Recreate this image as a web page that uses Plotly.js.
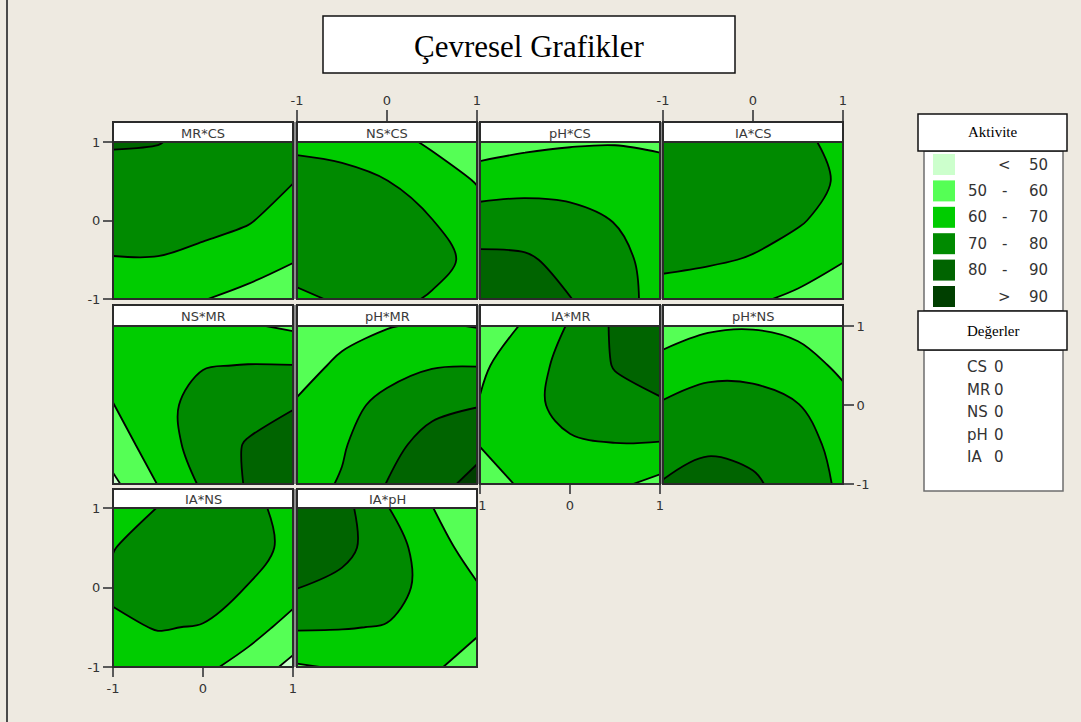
<!DOCTYPE html>
<html>
<head>
<meta charset="utf-8">
<script src="https://cdn.plot.ly/plotly-3.0.1.min.js"></script>
<style>
  html, body { margin: 0; padding: 0; background: #EEEAE1; }
  #chart { width: 1081px; height: 722px; }
</style>
</head>
<body>
<div id="chart"></div>
<script>
// Coded factor levels shared by every panel (both axes run -1 .. 1)
const gridX = [-1, -0.5, 0, 0.5, 1];
const gridY = [-1, -0.5, 0, 0.5, 1];
const axisTicks = [-1, 0, 1];
const axisTickText = ['-1', '0', '1'];

// Panel captions (response over Y*X factor pair)
const panelNames = ['MR*CS', 'NS*CS', 'pH*CS', 'IA*CS', 'NS*MR', 'pH*MR', 'IA*MR', 'pH*NS', 'IA*NS', 'IA*pH'];

// Activity surfaces, rows follow gridY (bottom to top), columns follow gridX
const zMRCS = [
  [65, 64, 60.3, 57.5, 55.5],
  [69.6, 69.6, 67.4, 64, 60.4],
  [73.8, 74, 73, 70.8, 65.3],
  [77.5, 77.6, 76.3, 74.5, 70.3],
  [80.6, 80.2, 78.5, 77, 74]
];
const zNSCS = [
  [68.5, 71, 73, 69, 66],
  [73.5, 76, 76, 73.5, 67],
  [75, 76.5, 74.5, 70.2, 64],
  [73, 73.5, 70.2, 65, 59.5],
  [68.5, 66, 63.5, 58.5, 55.5]
];
const zPHCS = [
  [87, 85, 80.3, 74, 66.5],
  [82.1, 81.3, 77, 73, 66],
  [74.3, 74.4, 73, 69.7, 65],
  [65.3, 66.7, 66.5, 65.5, 64],
  [55, 57.5, 59, 59.5, 58.5]
];
const zIACS = [
  [65.5, 63.5, 61.5, 58, 54],
  [72.5, 71.3, 69.3, 65.5, 60.5],
  [75, 75, 74, 71, 66],
  [76, 77, 76.5, 74, 68.5],
  [75.5, 76.5, 76.5, 73, 66]
];
const zNSMR = [
  [48, 60.3, 71.5, 81, 88.5],
  [55, 65, 74.5, 80.8, 87],
  [59.8, 66.5, 74, 76, 79],
  [63, 66.5, 69.5, 70.3, 70.2],
  [65, 66, 64, 61, 58.5]
];
const zPHMR = [
  [66, 70.8, 80.3, 87, 92.5],
  [65, 69, 77, 83.5, 87.5],
  [61, 66.5, 73, 77.5, 79.5],
  [56, 62, 66, 69.3, 69.7],
  [53, 56.5, 59.5, 61.5, 59.5]
];
const zIAMR = [
  [57, 61, 63, 62, 57],
  [60.2, 66, 68.5, 69.7, 69.3],
  [60.5, 66.5, 74, 77, 78.6],
  [58.5, 65, 74, 80.5, 85],
  [54, 61, 71, 81.5, 88]
];
const zPHNS = [
  [80.5, 83.5, 81.3, 76, 68],
  [76, 78.5, 77.5, 74, 66.5],
  [71, 74, 73.5, 70.3, 63],
  [63, 67, 67, 64, 58],
  [55.5, 58.5, 59.3, 57.5, 52.5]
];
const zIANS = [
  [64, 65, 62, 56.5, 47],
  [68.2, 70.5, 69.5, 63.5, 57],
  [71.7, 75, 74.5, 69.7, 63.5],
  [69.7, 74, 76, 73.5, 67.5],
  [65, 70.2, 73.5, 73, 66]
];
const zIAPH = [
  [59, 61, 62.5, 61, 57],
  [71, 70.5, 69.5, 65.5, 61],
  [80.3, 77.5, 74, 66.5, 60.8],
  [85, 82.5, 75, 64.5, 55.5],
  [88, 83.5, 70.5, 60.3, 50.5]
];
const panelSurfaces = [zMRCS, zNSCS, zPHCS, zIACS, zNSMR, zPHMR, zIAMR, zPHNS, zIANS, zIAPH];

// Contour levels and band legend
const levelStart = 50, levelEnd = 90, levelStep = 10;
const bandLow = ['', '50', '60', '70', '80', ''];
const bandSign = ['<', '-', '-', '-', '-', '>'];
const bandHigh = ['50', '60', '70', '80', '90', '90'];
const bandColors = ['#CCFFCC', '#55FF55', '#00CC00', '#008A00', '#006400', '#003F00'];

// Hold values of the factors not shown in a panel
const holdFactors = ['CS', 'MR', 'NS', 'pH', 'IA'];
const holdValues = [0, 0, 0, 0, 0];

// ---- page geometry (pixels) ----
const W = 1081, H = 722;
const px = v => v / W;
const py = v => 1 - v / H;
const colLeft = [113, 297, 480, 663];
const colRight = [293, 477, 660, 843];
const rowTitleTop = [122, 305, 489];
const rowPlotTop = [142, 326, 508];
const rowPlotBottom = [299, 484, 667];
const panelCell = [[0,0],[1,0],[2,0],[3,0],[0,1],[1,1],[2,1],[3,1],[0,2],[1,2]];

const sansFont = 'DejaVu Sans, Verdana, sans-serif';
const serifFont = 'Liberation Serif, Times New Roman, serif';
const textGray = '#333333';
const frameColor = '#2b2b2b';

// colour scale: each band is coloured at the middle of its level interval
const colorscale = bandColors.map((c, i) => [i / (bandColors.length - 1), c]);

const layout = {
  width: W, height: H,
  margin: { l: 0, r: 0, t: 0, b: 0 },
  paper_bgcolor: '#EEEAE1',
  plot_bgcolor: '#EEEAE1',
  showlegend: false,
  shapes: [],
  annotations: []
};

const traces = [];

function baseAxis(domain, anchor) {
  return {
    domain: domain, range: [-1, 1], anchor: anchor,
    showgrid: false, zeroline: false, showline: false,
    showticklabels: false, ticks: '', fixedrange: true
  };
}
function tickStyle(ax, len) {
  return Object.assign(ax, {
    tickmode: 'array', tickvals: axisTicks, ticktext: axisTickText,
    ticks: 'outside', ticklen: len, tickwidth: 2, tickcolor: '#5a5a5a',
    showticklabels: true,
    tickfont: { family: sansFont, size: 13, color: textGray }
  });
}

panelNames.forEach((name, i) => {
  const n = i + 1;
  const sfx = n > 1 ? String(n) : '';
  const [c, r] = panelCell[i];
  const xd = [px(colLeft[c]), px(colRight[c])];
  const yd = [py(rowPlotBottom[r]), py(rowPlotTop[r])];
  const xa = baseAxis(xd, 'y' + sfx);
  const ya = baseAxis(yd, 'x' + sfx);
  layout['xaxis' + sfx] = xa;
  layout['yaxis' + sfx] = ya;

  traces.push({
    type: 'contour',
    x: gridX, y: gridY, z: panelSurfaces[i],
    xaxis: 'x' + sfx, yaxis: 'y' + sfx,
    autocontour: false,
    contours: { start: levelStart, end: levelEnd, size: levelStep, coloring: 'fill', showlines: true },
    colorscale: colorscale,
    showscale: false,
    line: { color: '#000000', width: 1.8, smoothing: 1 },
    hoverinfo: 'skip'
  });

  // caption bar above the plot
  layout.shapes.push({
    type: 'rect', xref: 'paper', yref: 'paper',
    x0: px(colLeft[c]), x1: px(colRight[c]),
    y0: py(rowPlotTop[r]), y1: py(rowTitleTop[r]),
    fillcolor: '#FFFFFF', line: { color: frameColor, width: 2 }, layer: 'above'
  });
  // frame around the whole panel
  layout.shapes.push({
    type: 'rect', xref: 'paper', yref: 'paper',
    x0: px(colLeft[c]), x1: px(colRight[c]),
    y0: py(rowPlotBottom[r]), y1: py(rowTitleTop[r]),
    line: { color: frameColor, width: 2 }, layer: 'above'
  });
  layout.annotations.push({
    xref: 'paper', yref: 'paper', showarrow: false,
    x: px((colLeft[c] + colRight[c]) / 2), y: py((rowTitleTop[r] + rowPlotTop[r]) / 2 + 1),
    xanchor: 'center', yanchor: 'middle',
    text: name, font: { family: sansFont, size: 13, color: '#3a3a3a' }
  });
});

// gray gutters between neighbouring panels
[[0,0],[1,0],[2,0],[0,1],[1,1],[2,1],[0,2]].forEach(([c, r]) => {
  layout.shapes.push({
    type: 'rect', xref: 'paper', yref: 'paper', layer: 'above',
    x0: px(colRight[c] + 1), x1: px(colLeft[c + 1] - 1),
    y0: py(rowPlotBottom[r]), y1: py(rowTitleTop[r]),
    fillcolor: '#8c8c8c', line: { width: 0 }
  });
});

// axes that carry tick marks and labels
tickStyle(layout.yaxis, 9);                                   // MR*CS left
Object.assign(tickStyle(layout.xaxis2, 12), { side: 'top', anchor: 'free', position: py(rowTitleTop[0]) });
Object.assign(tickStyle(layout.xaxis4, 12), { side: 'top', anchor: 'free', position: py(rowTitleTop[0]) });
Object.assign(tickStyle(layout.xaxis7, 9), { side: 'bottom' });  // IA*MR bottom
Object.assign(tickStyle(layout.yaxis8, 10), { side: 'right' });  // pH*NS right
tickStyle(layout.yaxis9, 9);                                   // IA*NS left
Object.assign(tickStyle(layout.xaxis9, 9), { side: 'bottom' });  // IA*NS bottom

// page edge line
layout.shapes.push({
  type: 'line', xref: 'paper', yref: 'paper', layer: 'above',
  x0: px(7), x1: px(7), y0: 0, y1: 1,
  line: { color: '#4a4a4a', width: 2 }
});

// main heading box
layout.shapes.push({
  type: 'rect', xref: 'paper', yref: 'paper', layer: 'above',
  x0: px(323), x1: px(735), y0: py(73), y1: py(16),
  fillcolor: '#FFFFFF', line: { color: '#111111', width: 1.5 }
});
layout.annotations.push({
  xref: 'paper', yref: 'paper', showarrow: false,
  x: px(529), y: py(46), xanchor: 'center', yanchor: 'middle',
  text: 'Çevresel Grafikler', font: { family: serifFont, size: 31, color: '#000000' }
});

// ---- legend: activity bands ----
function headerBox(top, bottom, label) {
  layout.shapes.push({
    type: 'rect', xref: 'paper', yref: 'paper', layer: 'above',
    x0: px(918), x1: px(1067), y0: py(bottom), y1: py(top),
    fillcolor: '#FFFFFF', line: { color: '#111111', width: 1.5 }
  });
  layout.annotations.push({
    xref: 'paper', yref: 'paper', showarrow: false,
    x: px(992.5), y: py((top + bottom) / 2), xanchor: 'center', yanchor: 'middle',
    text: label, font: { family: serifFont, size: 15, color: '#000000' }
  });
}
function bodyBox(top, bottom) {
  layout.shapes.push({
    type: 'rect', xref: 'paper', yref: 'paper', layer: 'above',
    x0: px(924), x1: px(1063), y0: py(bottom), y1: py(top),
    fillcolor: '#FFFFFF', line: { color: '#6e6e6e', width: 1.5 }
  });
}

bodyBox(151, 311);
headerBox(114, 151, 'Aktivite');
const swatchTop = 154, swatchStep = 26.4;
bandColors.forEach((col, i) => {
  const top = swatchTop + i * swatchStep;
  const mid = top + 10.5;
  layout.shapes.push({
    type: 'rect', xref: 'paper', yref: 'paper', layer: 'above',
    x0: px(933), x1: px(955), y0: py(top + 21), y1: py(top),
    fillcolor: col, line: { width: 0 }
  });
  const f = { family: sansFont, size: 15, color: textGray };
  if (bandLow[i]) {
    layout.annotations.push({ xref: 'paper', yref: 'paper', showarrow: false,
      x: px(989), y: py(mid), xanchor: 'right', yanchor: 'middle', text: bandLow[i], font: f });
  }
  layout.annotations.push({ xref: 'paper', yref: 'paper', showarrow: false,
    x: px(1004), y: py(mid), xanchor: 'center', yanchor: 'middle', text: bandSign[i], font: f });
  layout.annotations.push({ xref: 'paper', yref: 'paper', showarrow: false,
    x: px(1050), y: py(mid), xanchor: 'right', yanchor: 'middle', text: bandHigh[i], font: f });
});

// ---- legend: hold values ----
bodyBox(350, 491);
headerBox(311, 350, 'Değerler');
holdFactors.forEach((fac, i) => {
  const y = 367 + i * 22.5;
  const f = { family: sansFont, size: 15, color: textGray };
  layout.annotations.push({ xref: 'paper', yref: 'paper', showarrow: false,
    x: px(965), y: py(y), xanchor: 'left', yanchor: 'middle', text: fac, font: f });
  layout.annotations.push({ xref: 'paper', yref: 'paper', showarrow: false,
    x: px(992), y: py(y), xanchor: 'left', yanchor: 'middle', text: String(holdValues[i]), font: f });
});

Plotly.newPlot('chart', traces, layout, { staticPlot: true, displayModeBar: false });
</script>
</body>
</html>
